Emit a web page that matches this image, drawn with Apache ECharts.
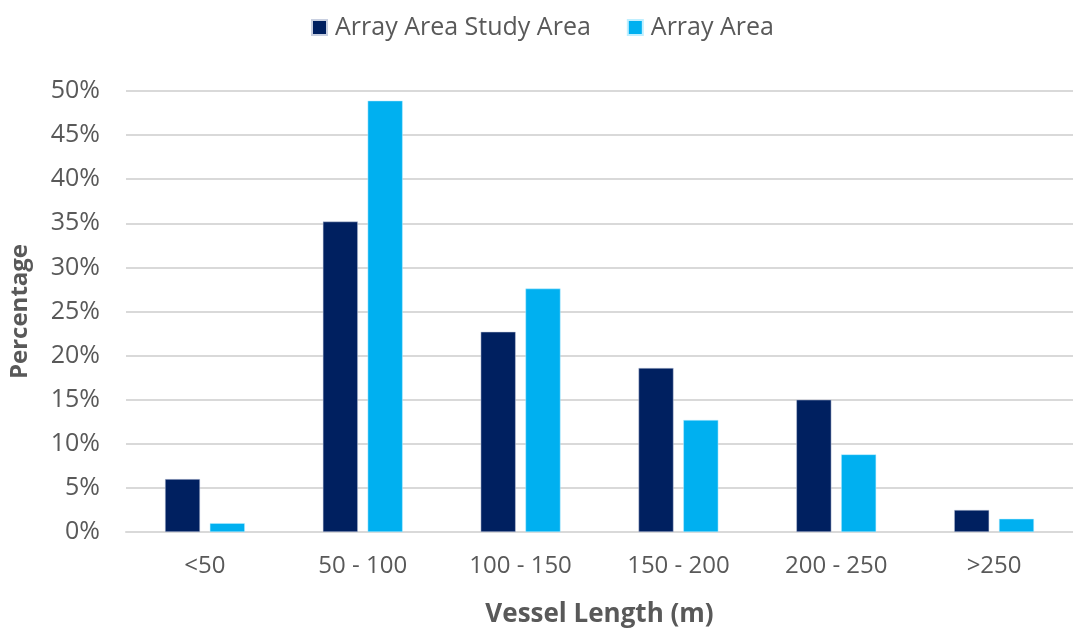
<!DOCTYPE html>
<html>
<head>
<meta charset="utf-8">
<script src="https://cdn.jsdelivr.net/npm/echarts@6/dist/echarts.min.js"></script>
<style>
html,body{margin:0;padding:0;background:#fff;}
#chart{width:1073px;height:633px;}
</style>
</head>
<body>
<div id="chart"></div>
<script>
const categories = ['<50', '50 - 100', '100 - 150', '150 - 200', '200 - 250', '>250'];
const studyArea = [6.0, 35.2, 22.7, 18.6, 15.0, 2.5];
const arrayArea = [1.0, 48.9, 27.6, 12.7, 8.8, 1.5];
const seriesNames = ['Array Area Study Area', 'Array Area'];
const yMin = 0, yMax = 50, yStep = 5;

const font = 'Open Sans';
const chart = echarts.init(document.getElementById('chart'), null, {renderer: 'canvas'});
chart.setOption({
  animation: false,
  backgroundColor: '#fff',
  textStyle: {fontFamily: font},
  legend: {
    left: 306, top: 10,
    itemWidth: 15, itemHeight: 15, itemGap: 36,
    icon: 'rect',
    textStyle: {fontFamily: font, fontSize: 25, color: '#595959', padding: [0, 0, 0, 3]},
    data: seriesNames
  },
  grid: {left: 126, top: 91, width: 962, height: 445, containLabel: false},
  xAxis: {
    type: 'category',
    data: categories,
    axisLine: {show: true, lineStyle: {color: '#d9d9d9', width: 2}},
    axisTick: {show: false},
    axisLabel: {fontFamily: font, fontSize: 24, color: '#595959', margin: 22},
    name: 'Vessel Length (m)',
    nameLocation: 'middle',
    nameGap: 70,
    nameTextStyle: {fontFamily: font, fontSize: 26, fontWeight: 'bold', color: '#595959'}
  },
  yAxis: {
    type: 'value',
    min: yMin, max: yMax, interval: yStep,
    axisLine: {show: false},
    axisTick: {show: false},
    splitLine: {lineStyle: {color: '#d9d9d9', width: 2}},
    axisLabel: {fontFamily: font, fontSize: 25, color: '#595959', margin: 26, formatter: v => v + '%'},
    name: 'Percentage',
    nameLocation: 'middle',
    nameGap: 94,
    nameTextStyle: {fontFamily: font, fontSize: 24, fontWeight: 'bold', color: '#595959'}
  },
  series: [
    {name: seriesNames[0], type: 'bar', data: studyArea, barWidth: 35, barGap: '28%',
     itemStyle: {color: '#002060', borderColor: '#c8cfe0', borderWidth: 0.5}},
    {name: seriesNames[1], type: 'bar', data: arrayArea, barWidth: 35,
     itemStyle: {color: '#00B0F0', borderColor: '#bfefff', borderWidth: 0.5}}
  ]
});
</script>
</body>
</html>
